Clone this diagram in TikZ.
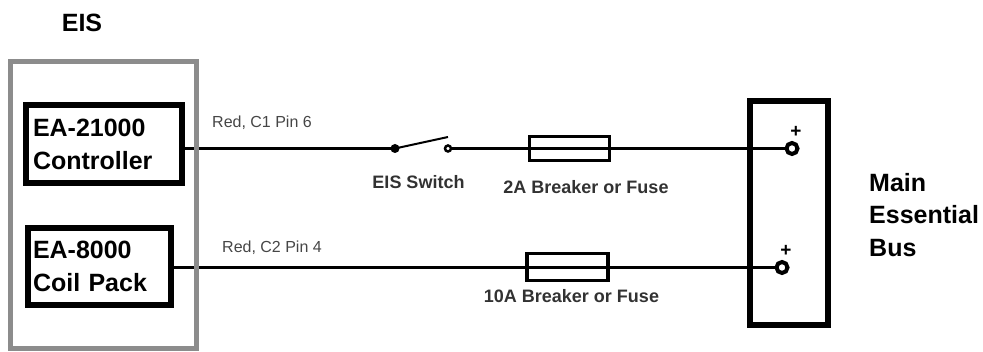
\documentclass[tikz,border=0pt]{standalone}
\usepackage{fontspec}
\setmainfont{Liberation Sans}
\definecolor{boxgray}{RGB}{140,140,140}
\definecolor{lblgray}{RGB}{50,50,50}
\definecolor{wiregray}{RGB}{70,70,70}
\begin{document}
\begin{tikzpicture}[x=1pt,y=-1pt,
  wire/.style={line width=3.5pt},
  comp/.style={draw, line width=6pt, align=left, font=\fontsize{25}{33}\selectfont\bfseries, inner ysep=0pt},
  lbl/.style={font=\fontsize{18}{20}\selectfont\bfseries, text=lblgray, inner sep=0pt, anchor=base},
  wlbl/.style={font=\fontsize{16}{18}\selectfont, text=wiregray, inner sep=0pt, anchor=base west},
  term/.style={circle, draw, fill=white, line width=4pt, minimum size=11pt, inner sep=0pt},
  plus/.style={font=\fontsize{19}{19}\selectfont\bfseries, inner sep=0pt},
  fuse/.style={draw, line width=3.5pt, inner sep=0pt},
  bigtxt/.style={font=\fontsize{25}{32.5}\selectfont\bfseries, inner sep=0pt}
]
\useasboundingbox (0,0) rectangle (983,352);

% components
\node[comp, minimum width=156pt, minimum height=78pt, text width=142pt, inner xsep=7pt] (ctrl) at (104,144) {EA-21000\\Controller};
\node[comp, minimum width=143pt, minimum height=77pt, text width=133pt, inner xsep=5pt] (coil) at (99.5,266.5) {EA-8000\\Coil Pack};

% bus
\node[draw, line width=6pt, minimum width=77.5pt, minimum height=224pt, inner sep=0pt] (bus) at (788.75,213) {};
\node[term] (t1) at (792,148.5) {};
\node[term] (t2) at (782,267.5) {};
\node[plus] (p1) at (796,132) {+};
\node[plus] (p2) at (786,251) {+};

% switch
\node[circle, fill, inner sep=0pt, minimum size=9pt] (sw1) at (395,148.5) {};
\node[circle, draw, fill=white, line width=2.5pt, minimum size=6pt, inner sep=0pt] (sw2) at (448,148.5) {};
\coordinate (blade) at (448,137);

% fuses
\node[fuse, minimum width=80pt, minimum height=24pt] (f1) at (569.5,148.5) {};
\node[fuse, minimum width=81pt, minimum height=27pt] (f2) at (567.5,267) {};

% wires
\draw[wire] (ctrl.east |- sw1) -- (sw1.center);
\draw[line width=2pt] (sw1.center) -- (blade);
\draw[wire] (sw2) -- (t1);
\draw[wire] (coil.east |- t2) -- (t2);

% outer EIS box (drawn over wires)
\node[draw=boxgray, line width=5pt, minimum width=185.5pt, minimum height=287pt, inner sep=0pt] (eis) at (103.25,205.5) {};
\node[font=\fontsize{25}{30}\selectfont\bfseries, inner sep=0pt, anchor=base] (eislbl) at (82,32) {EIS};

% labels
\node[wlbl] (c1) at (212,128) {Red, C1 Pin 6};
\node[wlbl] (c2) at (222,253) {Red, C2 Pin 4};
\node[lbl] (swl) at (418.5,189) {EIS Switch};
\node[lbl] (f1l) at (586,194) {2A Breaker or Fuse};
\node[lbl] (f2l) at (571.5,303) {10A Breaker or Fuse};
\node[bigtxt, align=left, anchor=west] (busl) at (869,215) {Main\\Essential\\Bus};
\end{tikzpicture}
\end{document}
